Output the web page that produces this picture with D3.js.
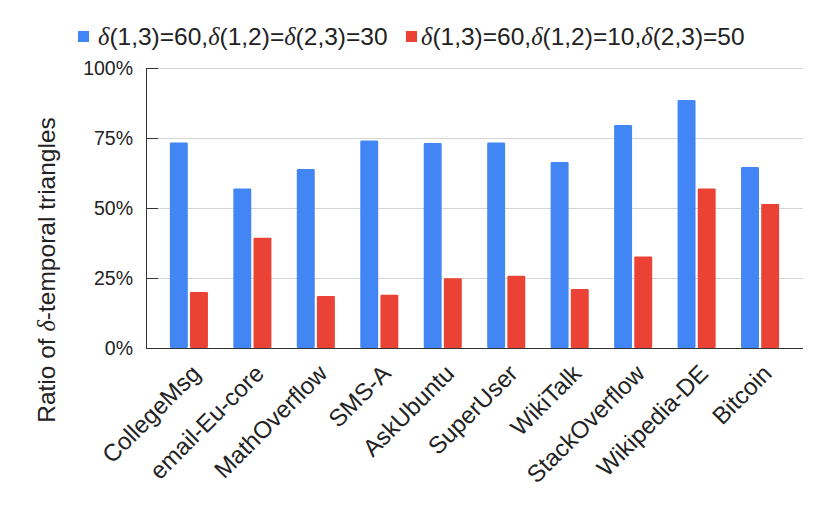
<!DOCTYPE html>
<html><head><meta charset="utf-8">
<script src="https://cdn.jsdelivr.net/npm/d3@7"></script>
<style>body{margin:0;background:#fff}svg{display:block}text{font-family:"Liberation Sans",Arial,sans-serif;fill:#222}</style>
</head><body><svg id="c" width="830" height="511"></svg>
<script>
const categories = ["CollegeMsg","email-Eu-core","MathOverflow","SMS-A","AskUbuntu","SuperUser","WikiTalk","StackOverflow","Wikipedia-DE","Bitcoin"];
const seriesA = [0.734,0.570,0.639,0.741,0.732,0.734,0.664,0.796,0.886,0.646];
const seriesB = [0.200,0.394,0.186,0.190,0.249,0.258,0.211,0.327,0.570,0.514];
const yTicks = [0,0.25,0.5,0.75,1];
const seriesKeys = ["a","b"];
const colors = {a:"#4285F4", b:"#EA4335"};

const svg = d3.select("#c");
const L=146, R=803, T=68, B=348;
const x = d3.scaleBand(categories,[L,R]).paddingInner(0.4).paddingOuter(0.376);
const x1 = d3.scaleBand(seriesKeys,[0,x.bandwidth()]).paddingInner(0.11);
const y = d3.scaleLinear([0,1],[B,T]);

// gridlines
svg.append("g").selectAll("line").data(yTicks.filter(d=>d>0)).join("line")
  .attr("x1",L).attr("x2",R).attr("y1",d=>Math.round(y(d))+0.5).attr("y2",d=>Math.round(y(d))+0.5)
  .attr("stroke","#d4d4d4").attr("stroke-width",1);
// dark tick stubs
svg.append("g").selectAll("line").data(yTicks).join("line")
  .attr("x1",L).attr("x2",L+12).attr("y1",d=>Math.round(y(d))+0.5).attr("y2",d=>Math.round(y(d))+0.5)
  .attr("stroke","#333").attr("stroke-width",1);
// y tick labels
svg.append("g").selectAll("text").data(yTicks).join("text")
  .attr("x",L-13).attr("y",d=>y(d)).attr("dy","0.36em").attr("text-anchor","end")
  .style("font-size","19.5px").text(d=>d3.format(".0%")(d));

// bars
const rows = categories.map((c,i)=>({c, a:seriesA[i], b:seriesB[i]}));
const g = svg.append("g").selectAll("g").data(rows).join("g")
  .attr("transform",d=>`translate(${x(d.c)},0)`);
g.selectAll("rect").data(d=>seriesKeys.map(k=>({k,v:d[k]}))).join("rect")
  .attr("x",d=>x1(d.k)).attr("width",x1.bandwidth())
  .attr("y",d=>y(d.v)).attr("height",d=>B-y(d.v))
  .attr("rx",1.2).attr("fill",d=>colors[d.k]);

// axes lines
svg.append("line").attr("x1",L+0.5).attr("x2",L+0.5).attr("y1",T).attr("y2",B+1).attr("stroke","#333");
svg.append("line").attr("x1",L).attr("x2",R).attr("y1",B+0.5).attr("y2",B+0.5).attr("stroke","#333");

// x labels
svg.append("g").selectAll("text").data(categories).join("text")
  .attr("transform",d=>`translate(${x(d)+x.bandwidth()/2+13},${B+27}) rotate(-45)`)
  .attr("text-anchor","end").style("font-size","24px").text(d=>d);

// y title
const yt = svg.append("text").attr("transform","translate(55,270) rotate(-90)")
  .attr("text-anchor","middle").style("font-size","24.5px");
yt.append("tspan").text("Ratio of ");
yt.append("tspan").style("font-family","'Liberation Serif',serif").style("font-style","italic").text("δ");
yt.append("tspan").text("-temporal triangles");

// legend
const legendItems = [
  {k:"a", sq:78, tx:98, parts:[["δ",1],["(1,3)=60,",0],["δ",1],["(1,2)=",0],["δ",1],["(2,3)=30",0]]},
  {k:"b", sq:406, tx:421, parts:[["δ",1],["(1,3)=60,",0],["δ",1],["(1,2)=10,",0],["δ",1],["(2,3)=50",0]]}
];
legendItems.forEach(it=>{
  svg.append("rect").attr("x",it.sq).attr("y",31).attr("width",11).attr("height",11).attr("fill",colors[it.k]);
  const t = svg.append("text").attr("x",it.tx).attr("y",45).style("font-size","24.5px");
  it.parts.forEach(([s,it2])=>{
    const sp=t.append("tspan").text(s);
    if(it2) sp.style("font-family","'Liberation Serif',serif").style("font-style","italic");
  });
});
</script></body></html>
